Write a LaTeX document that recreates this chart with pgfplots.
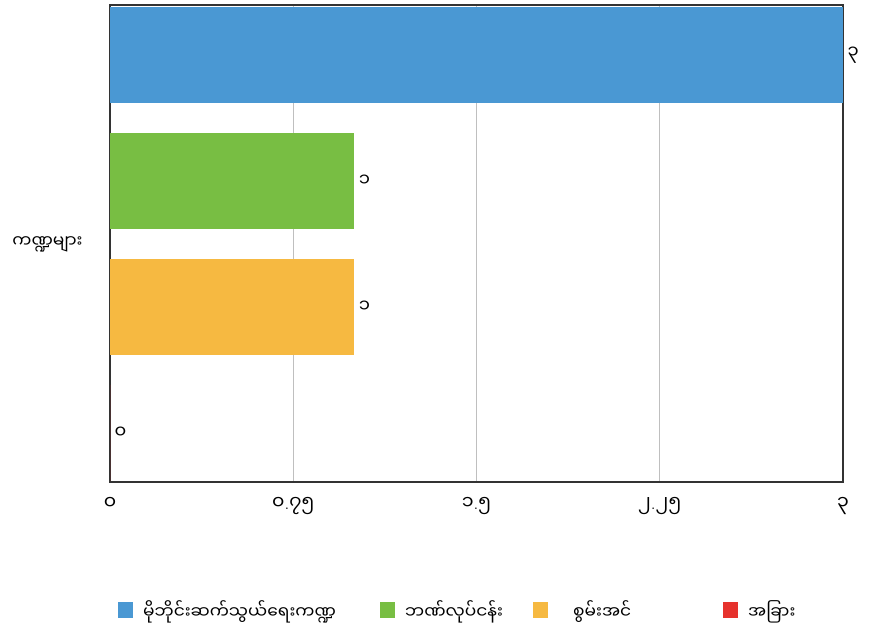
\documentclass[border=0pt]{standalone}
\usepackage{pgfplots}
\pgfplotsset{compat=1.18}
\usepackage{fontspec}
\newfontfamily\mm[Script=Myanmar]{Noto Sans Myanmar UI}
\definecolor{cblue}{RGB}{74,152,211}
\definecolor{cgreen}{RGB}{120,190,67}
\definecolor{corange}{RGB}{246,185,65}
\definecolor{cred}{RGB}{230,50,45}
\newcommand{\dt}{\mbox{\normalfont.}}
\begin{document}
\begin{tikzpicture}
\useasboundingbox (0,0) rectangle (874pt,632pt);
\begin{axis}[
  at={(110pt,150pt)}, anchor=south west,
  scale only axis, width=733pt, height=477pt,
  xmin=0, xmax=3, ymin=-1.889, ymax=1.897,
  xtick={0,0.75,1.5,2.25,3},
  xticklabels={{\mm ၀},{\mbox{\mm ၀}\dt\mbox{\mm ၇၅}},{\mbox{\mm ၁}\dt\mbox{\mm ၅}},{\mbox{\mm ၂}\dt\mbox{\mm ၂၅}},{\mm ၃}},
  ytick={0}, yticklabels={{\mm ကဏ္ဍများ}},
  xticklabel style={font=\fontsize{19}{21}\selectfont, yshift=-12pt},
  yticklabel style={font=\fontsize{17}{19}\selectfont, xshift=-24pt},
  major tick length=0pt,
  xmajorgrids, grid style={black!25, line width=0.9pt},
  axis line style={black!80, line width=1.3pt},
  xbar, bar width=0.762, bar shift=0pt,
  clip=false,
  nodes near coords style={font=\fontsize{18}{20}\selectfont, anchor=west, xshift=1pt},
  legend image code/.code={\fill[#1,draw=none] (0pt,-8pt) rectangle (15pt,8pt);},
  legend columns=4,
  legend style={at={(axis description cs:0,0)}, anchor=west, xshift=5pt, yshift=-128pt,
    draw=none, fill=none, font=\fontsize{17}{19}\selectfont,
    nodes={inner sep=0pt},
    /tikz/every odd column/.append style={column sep=10pt}},
]
\addplot[fill=cblue, draw=none, nodes near coords={\mm ၃}] coordinates {(3,1.5)};
\addlegendentry{\makebox[237pt][l]{\mm မိုဘိုင်းဆက်သွယ်ရေးကဏ္ဍ}}
\addplot[fill=cgreen, draw=none, nodes near coords={\mm ၁}] coordinates {(1,0.5)};
\addlegendentry{\makebox[128pt][l]{\mm ဘဏ်လုပ်ငန်း}}
\addplot[fill=corange, draw=none, nodes near coords={\mm ၁}] coordinates {(1,-0.5)};
\addlegendentry{\makebox[165pt][l]{\hspace{15pt}\mm စွမ်းအင်}}
\addplot[fill=cred, draw=none, nodes near coords={\mm ၀}] coordinates {(0,-1.5)};
\addlegendentry{\mm အခြား}
\end{axis}
\end{tikzpicture}
\end{document}
